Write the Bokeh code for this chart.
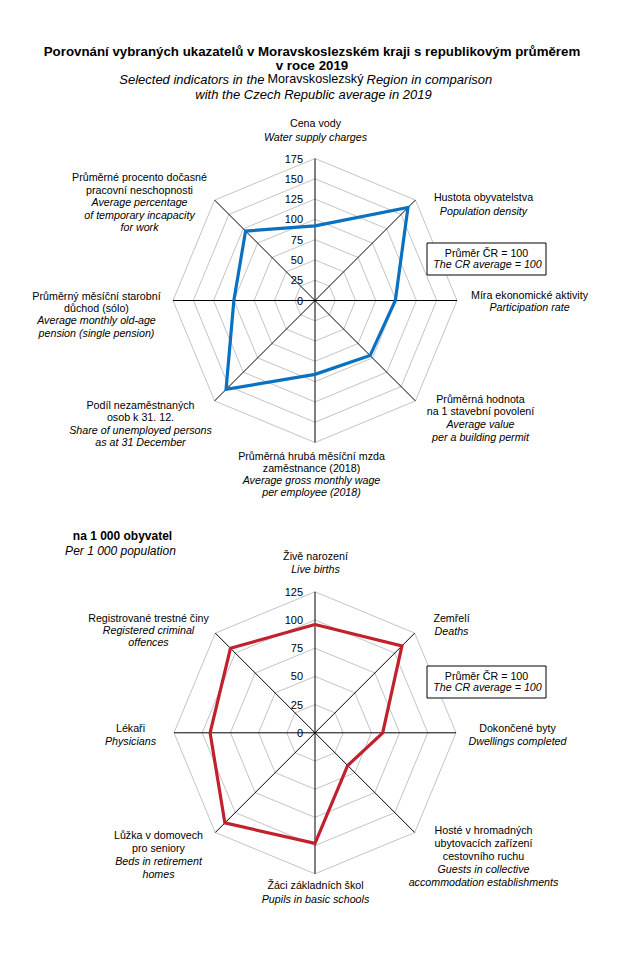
import math
from bokeh.plotting import figure
from bokeh.models import Range1d
from bokeh.core.properties import value
from bokeh.embed import file_html
from bokeh.resources import INLINE

# ---------------- data ----------------
top_values = [92, 162, 99, 96, 91, 155, 100, 121]
top_ticks = [0, 25, 50, 75, 100, 125, 150, 175]
top_cz = [
    ["Cena vody"],
    ["Hustota obyvatelstva"],
    ["Míra ekonomické aktivity"],
    ["Průměrná hodnota", "na 1 stavební povolení"],
    ["Průměrná hrubá měsíční mzda", "zaměstnance (2018)"],
    ["Podíl nezaměstnaných", "osob k 31. 12."],
    ["Průměrný měsíční starobní", "důchod (sólo)"],
    ["Průměrné procento dočasné", "pracovní neschopnosti"],
]
top_en = [
    ["Water supply charges"],
    ["Population density"],
    ["Participation rate"],
    ["Average value", "per a building permit"],
    ["Average gross monthly wage", "per employee (2018)"],
    ["Share of unemployed persons", "as at 31 December"],
    ["Average monthly old-age", "pension (single pension)"],
    ["Average percentage", "of temporary incapacity", "for work"],
]

bottom_values = [96, 109, 60, 41, 98, 113, 93, 106]
bottom_ticks = [0, 25, 50, 75, 100, 125]
bottom_cz = [
    ["Živě narození"],
    ["Zemřelí"],
    ["Dokončené byty"],
    ["Hosté v hromadných", "ubytovacích zařízení", "cestovního ruchu"],
    ["Žáci základních škol"],
    ["Lůžka v domovech", "pro seniory"],
    ["Lékaři"],
    ["Registrované trestné činy"],
]
bottom_en = [
    ["Live births"],
    ["Deaths"],
    ["Dwellings completed"],
    ["Guests in collective", "accommodation establishments"],
    ["Pupils in basic schools"],
    ["Beds in retirement", "homes"],
    ["Physicians"],
    ["Registered criminal", "offences"],
]

# ---------------- layout ----------------
W, H = 608, 940
FONT = value("Liberation Sans")
LBL = "10.7px"
p = figure(width=W, height=H, output_backend="svg", toolbar_location=None,
           x_range=Range1d(0, W), y_range=Range1d(H, 0),
           min_border=0, outline_line_color=None)
p.axis.visible = False
p.grid.visible = False
p.background_fill_color = "white"


def txt(x, y, s, size=LBL, style="normal", align="center"):
    p.text(x=[x], y=[y], text=[s], text_font=FONT, text_font_size=size,
           text_font_style=style, text_align=align, text_baseline="middle",
           text_color="black")


def radar(cx, cy, ticks, vals, maxr, color):
    k = maxr / ticks[-1]
    angs = [i * math.pi / 4 for i in range(8)]
    xs, ys = [], []
    for t in ticks[1:]:
        r = t * k
        xs.append([cx + r * math.sin(a) for a in angs] + [cx])
        ys.append([cy - r * math.cos(a) for a in angs] + [cy - r])
    p.multi_line(xs, ys, line_color="#c4c4c4", line_width=1)
    sx = [[cx, cx + maxr * math.sin(a)] for a in angs]
    sy = [[cy, cy - maxr * math.cos(a)] for a in angs]
    p.multi_line(sx, sy, line_color="black", line_width=1)
    for t in ticks:
        txt(cx - 12, cy - t * k, str(t), size="11px", align="right")
    px = [cx + v * k * math.sin(a) for v, a in zip(vals, angs)]
    py = [cy - v * k * math.cos(a) for v, a in zip(vals, angs)]
    px.append(px[0]); py.append(py[0])
    p.line(px, py, line_color=color, line_width=3.2, line_join="miter")


def labels(cz, en, pos):
    for lines_cz, lines_en, (x, y0, step) in zip(cz, en, pos):
        y = y0
        for s in lines_cz:
            txt(x, y, s)
            y += step
        for s in lines_en:
            txt(x, y, s, style="italic")
            y += step


def box(x0, x1, y0, y1):
    p.quad(left=[x0], right=[x1], top=[y0], bottom=[y1], fill_color="white",
           line_color="black", line_width=1)
    cx = (x0 + x1) / 2
    txt(cx, y0 + 9.5, "Průměr ČR = 100")
    txt(cx + 1, y0 + 21, "The CR average = 100", style="italic")


# titles
txt(311.5, 50.5, "Porovnání vybraných ukazatelů v Moravskoslezském kraji s republikovým průměrem",
    size="13.3px", style="bold")
txt(311.5, 64.5, "v roce 2019", size="13.3px", style="bold")
txt(264, 78.5, "Selected indicators in the", size="13px", style="italic", align="right")
txt(315, 78.5, "Moravskoslezský", size="12.6px")
txt(366, 78.5, "Region in comparison", size="13px", style="italic", align="left")
txt(313, 93.5, "with the Czech Republic average in 2019", size="13px", style="italic")

# top radar
radar(314.5, 300, top_ticks, top_values, 142, "#0a70c0")
labels(top_cz, top_en, [
    (315, 122, 14.5), (483, 196, 14.5), (529, 294, 12.8), (480, 398, 12.7),
    (311, 455, 12.3), (140, 404.5, 12.3), (96, 295, 12.4), (139, 176.7, 12.5),
])
box(426.5, 545.5, 242.5, 274.5)

# bottom radar
txt(122, 535, "na 1 000 obyvatel", size="12px", style="bold")
txt(120, 550, "Per 1 000 population", size="12px", style="italic")
radar(314.5, 732.3, bottom_ticks, bottom_values, 141, "#c0212d")
labels(bottom_cz, bottom_en, [
    (315, 555, 13.5), (451, 617, 13), (517, 727, 13), (483, 829, 13),
    (315, 884, 14), (158, 834, 13.3), (130, 727, 13), (148, 617, 12.2),
])
box(426.5, 545.5, 665.5, 697.5)

open("out.html", "w").write(file_html(p, INLINE))
